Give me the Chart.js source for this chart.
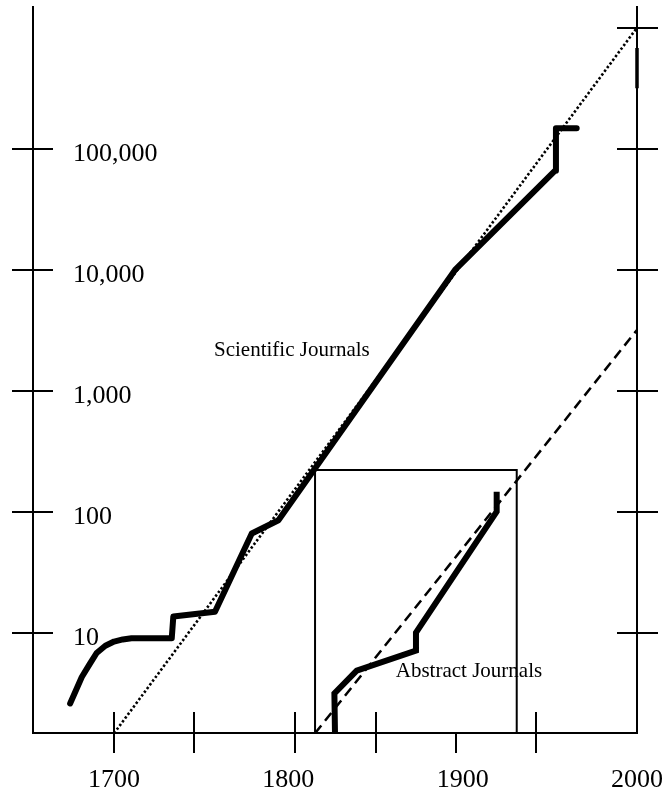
<!DOCTYPE html>
<html>
<head>
<meta charset="utf-8">
<script src="https://cdn.jsdelivr.net/npm/chart.js"></script>
<style>
  html, body { margin: 0; padding: 0; background: #fff; }
  canvas { display: block; }
</style>
</head>
<body>
<canvas id="myChart" width="671" height="793"></canvas>
<script>
// Scientific journals (thick curve)
const sciYears = [1674.8, 1681.5, 1686, 1690, 1695, 1700, 1705, 1710, 1733.1, 1734, 1757.9, 1779, 1794.3, 1895.6, 1953, 1953.5, 1965.4];
const sciCounts = [2.6, 4.3, 5.5, 6.8, 7.8, 8.45, 8.8, 9.0, 9.0, 13.6, 14.9, 66, 85, 9950, 65800, 147600, 147600];

// Abstract journals (thick curve)
const absYears = [1826.8, 1826.4, 1839.2, 1873.2, 1873.2, 1919.5, 1919.5];
const absCounts = [1.3, 3.15, 4.85, 7.1, 10, 100, 146];

// straight trend lines
const sciTrendYears = [1700, 2000];
const sciTrendCounts = [1.475, 1000000];
const absTrendYears = [1815.3, 2000];
const absTrendCounts = [1.475, 3180];

// the box around the abstract journals
const boxYears = [1815.3, 1815.3, 1931, 1931];
const boxCounts = [1.4, 221, 221, 1.4];

// short mark on the right axis
const markYears = [2000, 2000];
const markCounts = [316000, 680000];

// axes
const xLabels = [1700, 1800, 1900, 2000];
const xTickMarks = [1700, 1746, 1804, 1850, 1896, 1942];
const yLabels = [10, 100, 1000, 10000, 100000];
const yTicksRight = [10, 100, 1000, 10000, 100000, 1000000];

// text labels
const notes = [
  { text: 'Scientific Journals', year: 1802, count: 2130 },
  { text: 'Abstract Journals', year: 1903.6, count: 4.77 }
];

const serif = "'Liberation Serif', 'Times New Roman', serif";

function toPoints(xs, ys) {
  return xs.map((x, i) => ({ x: x, y: ys[i] }));
}

// fixed box sizes, no extra padding for labels at the ends
function fixSize(size) {
  return s => {
    if (s.isHorizontal()) s.height = size; else s.width = size;
    s.paddingLeft = 0; s.paddingRight = 0;
    s.paddingTop = 0; s.paddingBottom = 0;
  };
}

// tick marks that cross the axis line, plus the text labels
const extras = {
  id: 'extras',
  afterDraw(chart) {
    const ctx = chart.ctx;
    const x = chart.scales.x;
    const y = chart.scales.y;
    const area = chart.chartArea;
    ctx.save();
    ctx.strokeStyle = '#000';
    ctx.lineWidth = 2;
    ctx.beginPath();
    yLabels.forEach(v => {
      const py = Math.round(y.getPixelForValue(v));
      ctx.moveTo(area.left - 21, py);
      ctx.lineTo(area.left + 20, py);
    });
    yTicksRight.forEach(v => {
      const py = Math.round(y.getPixelForValue(v));
      ctx.moveTo(area.right - 20, py);
      ctx.lineTo(area.right + 21, py);
    });
    xTickMarks.forEach(v => {
      const px = Math.round(x.getPixelForValue(v));
      ctx.moveTo(px, v === 1896 ? area.bottom : area.bottom - 21);
      ctx.lineTo(px, area.bottom + 20);
    });
    ctx.stroke();

    ctx.fillStyle = '#000';
    ctx.font = '21px ' + serif;
    ctx.textAlign = 'center';
    ctx.textBaseline = 'middle';
    notes.forEach(n => {
      ctx.fillText(n.text, x.getPixelForValue(n.year), y.getPixelForValue(n.count));
    });
    ctx.restore();
  }
};

const ctx = document.getElementById('myChart').getContext('2d');
const myChart = new Chart(ctx, {
  type: 'line',
  data: {
    datasets: [
      {
        data: toPoints(sciYears, sciCounts),
        borderColor: '#000', borderWidth: 6,
        borderJoinStyle: 'round', borderCapStyle: 'round'
      },
      {
        data: toPoints(absYears, absCounts),
        borderColor: '#000', borderWidth: 6,
        borderJoinStyle: 'miter', borderCapStyle: 'butt'
      },
      {
        data: toPoints(sciTrendYears, sciTrendCounts),
        borderColor: '#000', borderWidth: 2.6,
        borderDash: [2.4, 2.2]
      },
      {
        data: toPoints(absTrendYears, absTrendCounts),
        borderColor: '#000', borderWidth: 2.5,
        borderDash: [10, 6]
      },
      {
        data: toPoints(boxYears, boxCounts),
        borderColor: '#000', borderWidth: 2
      },
      {
        data: toPoints(markYears, markCounts),
        borderColor: '#000', borderWidth: 3.5,
        clip: false
      }
    ]
  },
  options: {
    responsive: false,
    animation: false,
    devicePixelRatio: 1,
    layout: { padding: { top: 7, left: 0, right: 0, bottom: 0 } },
    elements: { point: { radius: 0 }, line: { tension: 0 } },
    plugins: { legend: { display: false }, tooltip: { enabled: false } },
    scales: {
      x: {
        type: 'linear',
        position: 'bottom',
        min: 1653.5,
        max: 2000,
        grid: { display: false, drawTicks: false },
        border: { display: true, color: '#000', width: 2 },
        afterBuildTicks: s => { s.ticks = xLabels.map(v => ({ value: v })); },
        afterFit: fixSize(60),
        ticks: {
          color: '#000',
          font: { family: serif, size: 26 },
          padding: 32,
          maxRotation: 0,
          autoSkip: false,
          callback: v => String(v)
        }
      },
      y: {
        type: 'logarithmic',
        position: 'left',
        min: 1.483,
        max: 1483000,
        grid: { display: false, drawTicks: false },
        border: { display: true, color: '#000', width: 2 },
        afterBuildTicks: s => { s.ticks = yLabels.map(v => ({ value: v })); },
        afterFit: fixSize(33),
        ticks: {
          mirror: true,
          padding: 40,
          labelOffset: 5,
          color: '#000',
          font: { family: serif, size: 26 },
          autoSkip: false,
          callback: v => Number(v).toLocaleString('en-US')
        }
      },
      y2: {
        type: 'logarithmic',
        position: 'right',
        min: 1.483,
        max: 1483000,
        grid: { display: false, drawTicks: false },
        border: { display: true, color: '#000', width: 2 },
        ticks: { display: false },
        afterFit: fixSize(34)
      }
    }
  },
  plugins: [extras]
});
</script>
</body>
</html>
